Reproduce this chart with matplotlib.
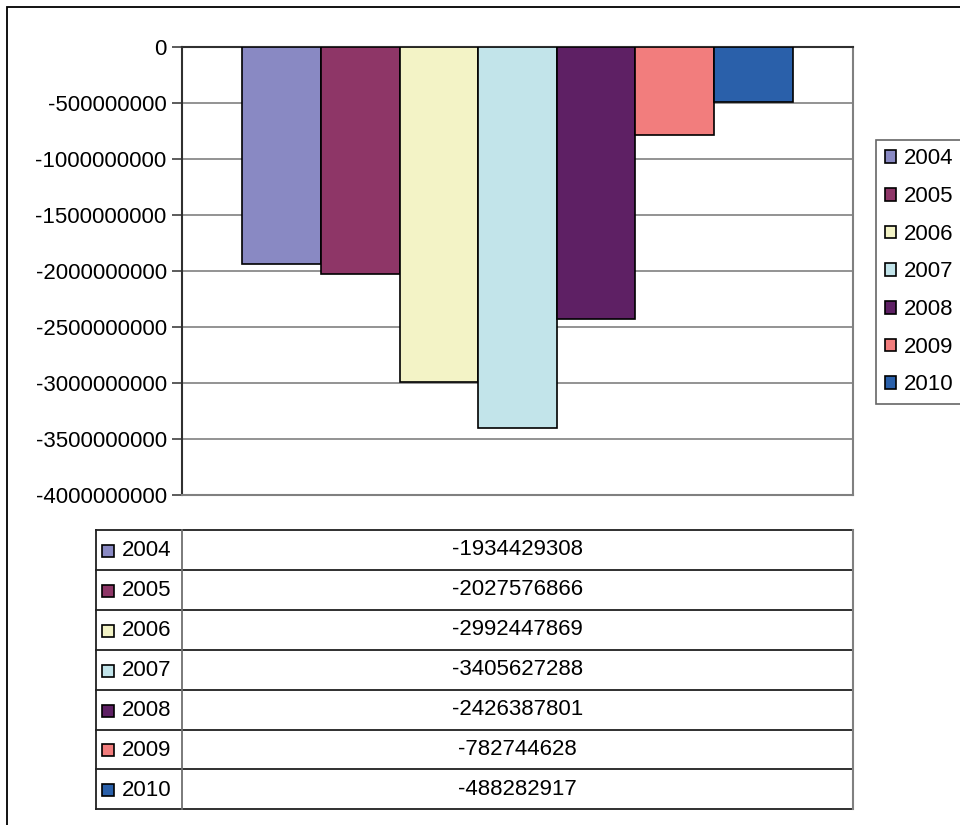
import matplotlib
matplotlib.use("Agg")
import matplotlib.pyplot as plt
from matplotlib.patches import Patch, Rectangle

plt.rcParams['font.family'] = ['Liberation Sans', 'DejaVu Sans']

# Jahre, Werte und Farben
jahre = ["2004", "2005", "2006", "2007", "2008", "2009", "2010"]
werte = [-1934429308, -2027576866, -2992447869, -3405627288, -2426387801, -782744628, -488282917]
farben = ["#8989C3", "#8E3667", "#F3F3C6", "#C2E4EA", "#5E2064", "#F27D7D", "#2A60AA"]
y_ticks = [0, -500000000, -1000000000, -1500000000, -2000000000,
           -2500000000, -3000000000, -3500000000, -4000000000]

W, H = 960, 825
fs = 16
fig = plt.figure(figsize=(W / 100, H / 100), dpi=100)


def px_box(x0, y0, x1, y1):
    # Pixel-Rechteck (oben links -> unten rechts) in Figure-Koordinaten
    return [x0 / W, 1 - y1 / H, (x1 - x0) / W, (y1 - y0) / H]


# Rahmen um das ganze Diagramm
fig.patches.append(Rectangle((7 / W, -0.1), 1.2, 1 - 7 / H + 0.1, transform=fig.transFigure,
                             fill=False, edgecolor="black", linewidth=1.3))

# Säulendiagramm
ax = fig.add_axes(px_box(182, 47, 853, 495))
x = list(range(len(jahre)))
ax.bar(x, werte, width=1.0, color=farben, edgecolor="black", linewidth=1.2, zorder=3)
ax.set_xlim(-1.265, 7.265)
ax.set_ylim(-4000000000, 0)
ax.set_yticks(y_ticks)
ax.set_yticklabels([str(v) for v in y_ticks], fontsize=fs)
ax.set_xticks([])
ax.yaxis.grid(True, color="#808080", linewidth=1.2, zorder=0)
ax.tick_params(axis="y", direction="out", length=7, width=1.2, color="#404040", pad=4)
for s in ["right", "bottom"]:
    ax.spines[s].set_color("#808080")
    ax.spines[s].set_linewidth(1.5)
for s in ["left", "top"]:
    ax.spines[s].set_color("#303030")
    ax.spines[s].set_linewidth(1.5)

# Legende rechts
handles = [Patch(facecolor=c, edgecolor="black", linewidth=1.2) for c in farben]
leg = fig.legend(handles, jahre, loc="upper left", bbox_to_anchor=(876 / W, 1 - 139.5 / H),
                 fontsize=fs, frameon=True, fancybox=False, handlelength=0.5, handleheight=0.5,
                 handletextpad=0.35, labelspacing=0.75, borderpad=0.4, borderaxespad=0)
leg.get_frame().set_edgecolor("#404040")
leg.get_frame().set_linewidth(1.2)

# Datentabelle unter dem Diagramm
t_links, t_teil, t_rechts, t_oben, zeile = 96, 182, 853, 530, 39.9
t_unten = t_oben + zeile * len(jahre)
tab = fig.add_axes([0, 0, 1, 1])
tab.set_xlim(0, W)
tab.set_ylim(H, 0)
tab.axis("off")
for i in range(len(jahre) + 1):
    y = t_oben + i * zeile
    tab.plot([t_links, t_rechts], [y, y], color="#202020", linewidth=1.3)
tab.plot([t_links, t_links], [t_oben, t_unten], color="#202020", linewidth=1.3)
tab.plot([t_teil, t_teil], [t_oben, t_unten], color="#707070", linewidth=1.3)
tab.plot([t_rechts, t_rechts], [t_oben, t_unten], color="#808080", linewidth=1.5)
for i, (jahr, wert, farbe) in enumerate(zip(jahre, werte, farben)):
    ym = t_oben + (i + 0.5) * zeile
    tab.add_patch(Rectangle((102, ym - 5), 12, 12, facecolor=farbe, edgecolor="black", linewidth=1.2))
    tab.text(122, ym + 1, jahr, fontsize=fs, va="center", ha="left")
    tab.text((t_teil + t_rechts) / 2, ym, str(wert), fontsize=fs, va="center", ha="center")

fig.savefig("out.png", dpi=100, facecolor="white")
